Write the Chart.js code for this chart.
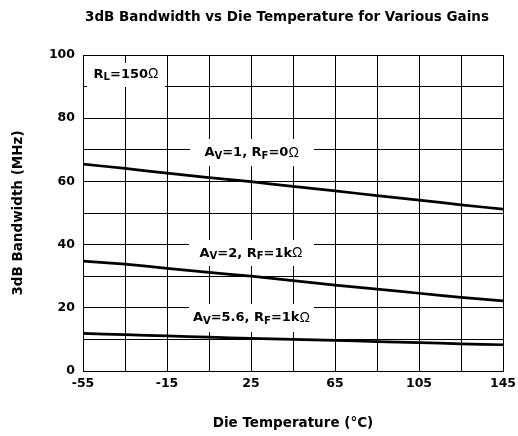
<!DOCTYPE html>
<html>
<head>
<meta charset="utf-8">
<script src="https://cdn.jsdelivr.net/npm/chart.js@4.4.1/dist/chart.umd.min.js"></script>
<style>
html,body{margin:0;padding:0;background:#fff;}
canvas{display:block;}
</style>
</head>
<body>
<canvas id="c" width="518" height="436"></canvas>
<script>
// ---- data ----
const temperatures = [-55, -35, -15, 5, 25, 45, 65, 85, 105, 125, 145];
const bwAv1 = [65.5, 64.1, 62.6, 61.2, 59.9, 58.4, 57.0, 55.5, 54.1, 52.6, 51.2];
const bwAv2 = [34.8, 33.8, 32.5, 31.2, 30.0, 28.6, 27.2, 25.9, 24.6, 23.3, 22.2];
const bwAv56 = [11.9, 11.5, 11.1, 10.7, 10.3, 10.0, 9.7, 9.3, 9.0, 8.6, 8.3];
const xTickLabels = [-55, -15, 25, 65, 105, 145];
const yTickLabels = [0, 20, 40, 60, 80, 100];

const titleText = '3dB Bandwidth vs Die Temperature for Various Gains';
const xTitle = 'Die Temperature (°C)';
const yTitle = '3dB Bandwidth (MHz)';

const FONT = "'DejaVu Sans', Verdana, sans-serif";

const toPts = arr => temperatures.map((t, i) => ({x: t, y: arr[i]}));

// annotation labels (text with subscripts) anchored in data space
const annotations = [
  {x: -34.5, y: 93.8, boxW: 78, boxH: 24, seg: [['R'], ['L', 'sub'], ['=150'], ['Ω', 'sym']]},
  {x: 25.3, y: 69.0, boxW: 124, boxH: 27, seg: [['A'], ['V', 'sub'], ['=1, R'], ['F', 'sub'], ['=0'], ['Ω', 'sym']]},
  {x: 25.0, y: 37.3, boxW: 125, boxH: 26, seg: [['A'], ['V', 'sub'], ['=2, R'], ['F', 'sub'], ['=1k'], ['Ω', 'sym']]},
  {x: 25.2, y: 16.8, boxW: 125, boxH: 28, seg: [['A'], ['V', 'sub'], ['=5.6, R'], ['F', 'sub'], ['=1k'], ['Ω', 'sym']]}
];

function segFont(kind) {
  if (kind === 'sub') return 'bold 10px ' + FONT;
  if (kind === 'sym') return "14px 'Liberation Sans', Arial, sans-serif";
  return 'bold 13px ' + FONT;
}

const labelPlugin = {
  id: 'labels',
  beforeDatasetsDraw(chart) {
    const ctx = chart.ctx;
    const xs = chart.scales.x, ys = chart.scales.y;
    ctx.save();
    annotations.forEach(a => {
      const cx = xs.getPixelForValue(a.x);
      const cy = ys.getPixelForValue(a.y);
      let w = 0;
      a.seg.forEach(s => { ctx.font = segFont(s[1]); w += ctx.measureText(s[0]).width; });
      ctx.fillStyle = '#fff';
      ctx.fillRect(Math.round(cx - a.boxW / 2), Math.round(cy - a.boxH / 2), a.boxW, a.boxH);
      let px = cx - w / 2;
      ctx.fillStyle = '#000';
      ctx.textBaseline = 'middle';
      ctx.textAlign = 'left';
      a.seg.forEach(s => {
        ctx.font = segFont(s[1]);
        const dy = s[1] === 'sub' ? 3 : 0;
        ctx.fillText(s[0], px, cy + dy);
        px += ctx.measureText(s[0]).width;
      });
    });
    ctx.restore();
  }
};

// chart title above the plot area
const titlePlugin = {
  id: 'plotTitle',
  afterDraw(chart) {
    const ctx = chart.ctx;
    const ca = chart.chartArea;
    ctx.save();
    ctx.font = 'bold 13.5px ' + FONT;
    ctx.fillStyle = '#000';
    ctx.textAlign = 'center';
    ctx.textBaseline = 'middle';
    ctx.fillText(titleText, (ca.left + ca.right) / 2 - 6, 17);
    ctx.restore();
  }
};

const lineStyle = {borderColor: '#000', borderWidth: 2.7, pointRadius: 0, fill: false, tension: 0.2};

new Chart(document.getElementById('c'), {
  type: 'line',
  data: {
    datasets: [
      Object.assign({label: 'AV=1', data: toPts(bwAv1)}, lineStyle),
      Object.assign({label: 'AV=2', data: toPts(bwAv2)}, lineStyle),
      Object.assign({label: 'AV=5.6', data: toPts(bwAv56)}, lineStyle)
    ]
  },
  plugins: [labelPlugin, titlePlugin],
  options: {
    responsive: false,
    devicePixelRatio: 1,
    animation: false,
    layout: {padding: {left: 0, right: 15, top: 55, bottom: 0}},
    plugins: {
      legend: {display: false},
      tooltip: {enabled: false},
      title: {display: false}
    },
    scales: {
      x: {
        type: 'linear',
        min: -55, max: 145,
        border: {color: '#000', width: 1},
        grid: {color: '#000', lineWidth: 1, drawTicks: false},
        ticks: {
          stepSize: 20,
          color: '#000',
          padding: 5,
          maxRotation: 0,
          autoSkip: false,
          font: {family: FONT, size: 12.5, weight: 'bold'},
          callback: v => xTickLabels.includes(v) ? String(v) : ''
        },
        title: {
          display: true, text: xTitle, color: '#000',
          font: {family: FONT, size: 13.5, weight: 'bold'},
          padding: {top: 0, bottom: 4}
        },
        afterFit(s) { s.height = 65; s.paddingLeft = 0; s.paddingRight = 0; }
      },
      y: {
        min: 0, max: 100,
        border: {color: '#000', width: 1},
        grid: {color: '#000', lineWidth: 1, drawTicks: false},
        ticks: {
          stepSize: 10,
          color: '#000',
          padding: 8,
          autoSkip: false,
          font: {family: FONT, size: 12.5, weight: 'bold'},
          callback: v => yTickLabels.includes(v) ? String(v) : ''
        },
        title: {
          display: true, text: yTitle, color: '#000',
          font: {family: FONT, size: 13.5, weight: 'bold'},
          padding: {top: 10, bottom: 0}
        },
        afterFit(s) { s.width = 83; s.paddingTop = 0; s.paddingBottom = 0; }
      }
    }
  }
});
</script>
</body>
</html>
